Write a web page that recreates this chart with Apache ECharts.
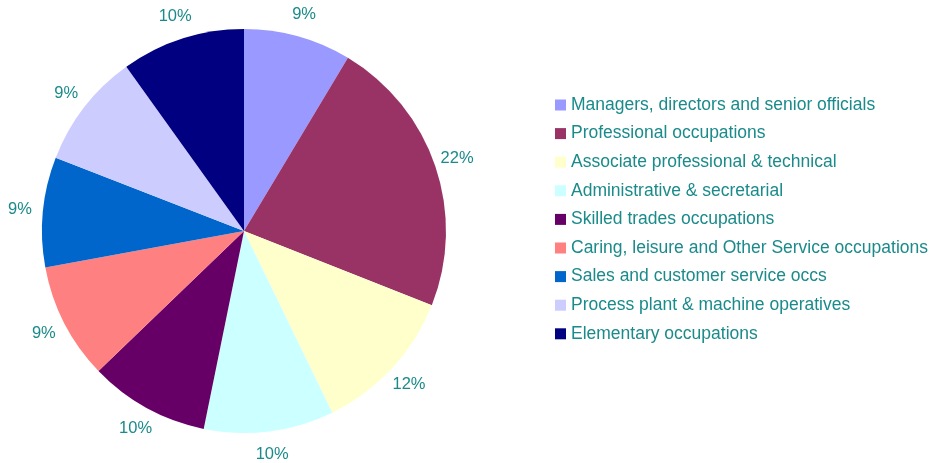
<!DOCTYPE html>
<html lang="en">
<head>
    <meta charset="UTF-8">
    <title>Occupations</title>
    <script src="https://cdn.jsdelivr.net/npm/echarts@6/dist/echarts.min.js"></script>
</head>
<body style="margin:0;background:#fff;">
<div id="main" style="width: 934px;height:463px;"></div>

<script type="text/javascript">
  var categories = [
    'Managers, directors and senior officials',
    'Professional occupations',
    'Associate professional & technical',
    'Administrative & secretarial',
    'Skilled trades occupations',
    'Caring, leisure and Other Service occupations',
    'Sales and customer service occs',
    'Process plant & machine operatives',
    'Elementary occupations'
  ];
  // share of total, in %
  var values = [8.6, 22.4, 11.8, 10.4, 9.6, 9.3, 8.8, 9.2, 9.9];
  var colors = ['#9999FF', '#993366', '#FFFFCC', '#CCFFFF', '#660066',
                '#FF8080', '#0066CC', '#CCCCFF', '#000080'];

  var myChart = echarts.init(document.getElementById('main'));

  var pieData = categories.map(function (c, i) {
    return { name: c, value: values[i] };
  });

  var option = {
    backgroundColor: '#fff',
    color: colors,
    textStyle: { fontFamily: 'Liberation Sans, Arial, sans-serif' },
    legend: {
      orient: 'vertical',
      left: 550,
      top: 91,
      icon: 'rect',
      itemWidth: 11,
      itemHeight: 11,
      itemGap: 10.6,
      textStyle: { color: '#1a8a8a', fontSize: 17.5, lineHeight: 18 },
      data: categories
    },
    series: [
      {
        type: 'pie',
        center: [244, 231],
        radius: [0, 202],
        startAngle: 90,
        clockwise: true,
        silent: true,
        label: { show: false },
        labelLine: { show: false },
        itemStyle: { borderWidth: 0 },
        data: pieData
      },
      {
        // invisible ring, only carries the % labels outside the pie
        type: 'pie',
        center: [244, 231],
        radius: [212, 232],
        startAngle: 90,
        clockwise: true,
        silent: true,
        legendHoverLink: false,
        itemStyle: { color: 'rgba(0,0,0,0)', borderWidth: 0 },
        label: {
          position: 'inside',
          color: '#1a8a8a',
          fontSize: 16.5,
          fontWeight: 'normal',
          fontFamily: 'Liberation Sans, Arial, sans-serif',
          textBorderWidth: 0,
          formatter: function (p) { return Math.round(p.value) + '%'; }
        },
        labelLine: { show: false },
        data: pieData
      }
    ]
  };

  myChart.setOption(option);
</script>

</body>
</html>
